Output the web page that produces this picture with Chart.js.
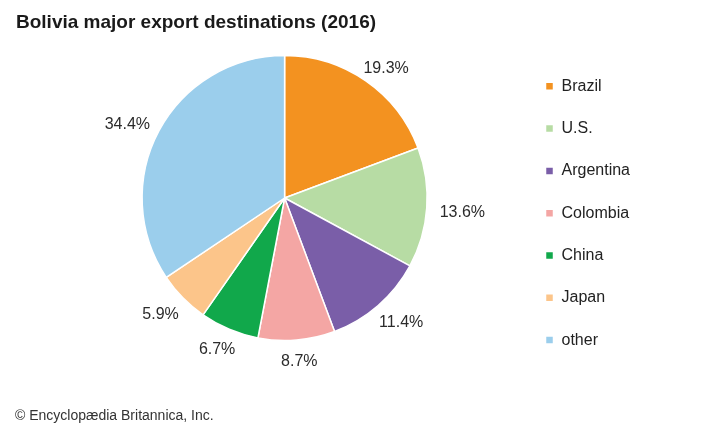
<!DOCTYPE html>
<html>
<head>
<meta charset="utf-8">
<script src="https://cdn.jsdelivr.net/npm/chart.js@4/dist/chart.umd.min.js"></script>
<style>
  body { margin: 0; background: #fff; }
  #wrap { position: relative; width: 720px; height: 431px; font-family: "Liberation Sans", Arial, sans-serif; }
  #titulo { position: absolute; left: 16px; top: 12px; font-size: 19px; line-height: 1; font-weight: bold; color: #1a1a1a; white-space: nowrap; }
  #fuente { position: absolute; left: 15px; top: 408px; font-size: 14px; line-height: 1; color: #333; white-space: nowrap; }
  canvas { position: absolute; left: 0; top: 0; }
</style>
</head>
<body>
<div id="wrap">
  <canvas id="grafica" width="720" height="431"></canvas>
  <div id="titulo">Bolivia major export destinations (2016)</div>
  <div id="fuente">© Encyclopædia Britannica, Inc.</div>
</div>
<script>
// datos
const paises = ['Brazil', 'U.S.', 'Argentina', 'Colombia', 'China', 'Japan', 'other'];
const porcentajes = [19.3, 13.6, 11.4, 8.7, 6.7, 5.9, 34.4];
const colores = ['#f39220', '#b7dca4', '#7a5ea8', '#f4a6a4', '#11a84b', '#fcc58a', '#9bceec'];

// etiquetas de porcentaje fuera de cada sector
const etiquetasFuera = {
    id: 'etiquetasFuera',
    afterDatasetsDraw(chart) {
        const ctx = chart.ctx;
        const meta = chart.getDatasetMeta(0);
        ctx.save();
        ctx.font = '16px "Liberation Sans", Arial, sans-serif';
        ctx.fillStyle = '#2b2b2b';
        ctx.textAlign = 'center';
        ctx.textBaseline = 'middle';
        meta.data.forEach((arc, i) => {
            const txt = porcentajes[i].toFixed(1) + '%';
            const mid = (arc.startAngle + arc.endAngle) / 2;
            const w = ctx.measureText(txt).width;
            const h = 12;
            const r = arc.outerRadius + 13;
            const x = arc.x + Math.cos(mid) * (r + w / 2);
            const y = arc.y + Math.sin(mid) * (r + h / 2) + 3;
            ctx.fillText(txt, x, y);
        });
        ctx.restore();
    }
};

const ctx = document.getElementById('grafica').getContext('2d');
new Chart(ctx, {
    type: 'pie',
    data: {
        labels: paises,
        datasets: [{
            data: porcentajes,
            backgroundColor: colores,
            borderColor: '#ffffff',
            borderWidth: 1.5,
            hoverOffset: 0,
            offset: 0
        }]
    },
    options: {
        responsive: false,
        animation: false,
        radius: 142.5,
        layout: {
            // el centro del pie queda en (284.5, 198)
            padding: { left: 50, right: 80, top: 0, bottom: 35 }
        },
        plugins: {
            title: { display: false },
            tooltip: { enabled: false },
            legend: {
                position: 'right',
                align: 'start',
                // titulo vacio solo para bajar la leyenda
                title: { display: true, text: '', padding: { top: 40, bottom: 0 }, font: { size: 12, lineHeight: 1 } },
                labels: {
                    boxWidth: 8,
                    boxHeight: 8,
                    padding: 26.3,
                    color: '#222',
                    font: { size: 16, family: '"Liberation Sans", Arial, sans-serif' }
                }
            }
        }
    },
    plugins: [etiquetasFuera]
});
</script>
</body>
</html>
